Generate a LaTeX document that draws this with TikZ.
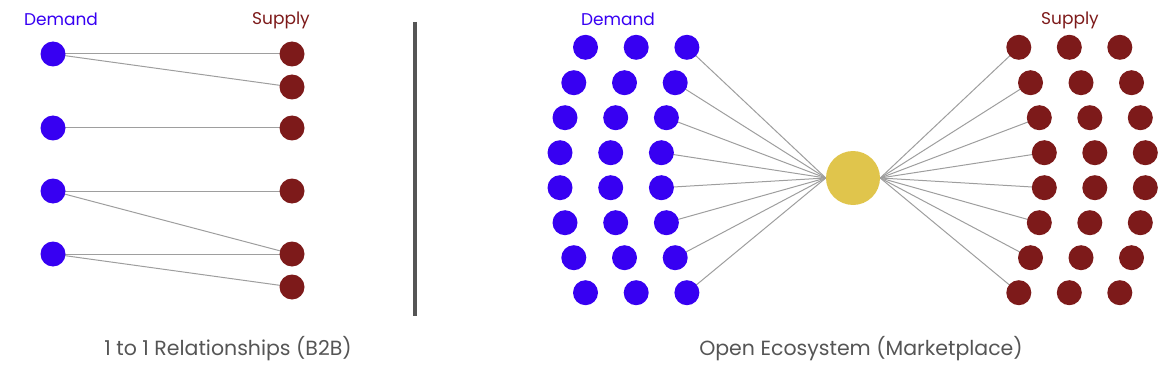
\documentclass[tikz,border=0pt]{standalone}
\usepackage{fontspec}
\setmainfont{Poppins}
\usetikzlibrary{backgrounds}
\definecolor{dem}{HTML}{3700F2}
\definecolor{sup}{HTML}{7D1A1A}
\definecolor{hubc}{HTML}{E0C54C}
\definecolor{lnc}{HTML}{9E9E9E}
\definecolor{capc}{HTML}{555555}
\tikzset{
  dnode/.style={circle,fill=dem,minimum size=25pt,inner sep=0pt},
  snode/.style={circle,fill=sup,minimum size=25pt,inner sep=0pt},
  hubnode/.style={circle,fill=hubc,minimum size=54pt,inner sep=0pt},
  link/.style={draw=lnc,line width=1pt},
  dlabel/.style={text=dem,font=\fontsize{17}{20}\selectfont},
  slabel/.style={text=sup,font=\fontsize{17}{20}\selectfont},
  caption/.style={text=capc,font=\fontsize{20.5}{24}\selectfont}
}
\begin{document}
\begin{tikzpicture}[x=1pt,y=-1pt]
\useasboundingbox (0,0) rectangle (1164,377);
% left panel
\node[dlabel] (ldl) at (61,19) {Demand};
\node[slabel] (lsl) at (281,20) {Supply};
\foreach \i/\y in {1/54,2/128,3/191,4/254} \node[dnode] (ld\i) at (53,\y) {};
\foreach \i/\y in {1/54,2/87,3/128,4/191,5/254,6/287} \node[snode] (ls\i) at (292,\y) {};
\begin{scope}[on background layer]
\draw[link] (ld1.center) -- (ls1.center);
\draw[link] (ld1.center) -- (ls2.center);
\draw[link] (ld2.center) -- (ls3.center);
\draw[link] (ld3.center) -- (ls4.center);
\draw[link] (ld3.center) -- (ls5.center);
\draw[link] (ld4.center) -- (ls5.center);
\draw[link] (ld4.center) -- (ls6.center);
\end{scope}
\node[caption] (lcap) at (228,349) {1 to 1 Relationships (B2B)};
% divider
\coordinate (dt) at (415,22);
\coordinate (db) at (415,316);
\draw[capc,line width=4pt] (dt) -- (db);
% right panel
\node[dlabel] (rdl) at (618,19) {Demand};
\node[slabel] (rsl) at (1070,20) {Supply};
\node[hubnode] (hub) at (853,178) {};
\foreach \r/\y/\o in {1/47.3/25.5,2/82.7/13.8,3/117.7/5,4/152.7/0,5/187.7/0,6/222.7/5,7/257.7/13.8,8/292.7/25.5}{
  \foreach \c in {0,1,2}{
    \node[dnode] (rd\r c\c) at ({560+\o+50.7*\c},\y) {};
    \node[snode] (rs\r c\c) at ({1044.3-\o+50.5*\c},\y) {};
  }
  \begin{scope}[on background layer]
  \draw[link] (rd\r c2.center) -- (hub.west);
  \draw[link] (rs\r c0.center) -- (hub.east);
  \end{scope}
}
\node[caption] (rcap) at (861,349) {Open Ecosystem (Marketplace)};
\end{tikzpicture}
\end{document}
